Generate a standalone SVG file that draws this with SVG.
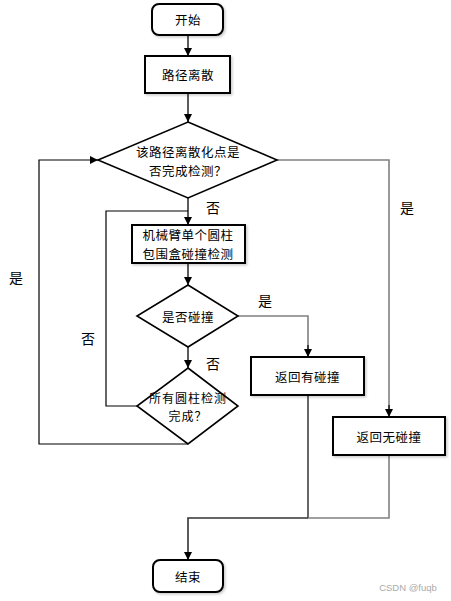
<svg xmlns="http://www.w3.org/2000/svg" width="451" height="601" viewBox="0 0 451 601">
<defs>
<marker id="arr" viewBox="0 0 10 10" refX="10" refY="5" markerWidth="8" markerHeight="8" markerUnits="userSpaceOnUse" orient="auto">
<path d="M0,0 L10,5 L0,10 Z" fill="#000"/>
</marker>
<filter id="sh" x="-10%" y="-10%" width="130%" height="140%">
<feDropShadow dx="1.5" dy="1.5" stdDeviation="1" flood-color="#000" flood-opacity="0.2"/>
</filter>
</defs>
<style>
.n{fill:#fff;stroke:#000;stroke-width:2}
.d{fill:#fff;stroke:#000;stroke-width:1.6}
.t{font-family:"Noto Sans CJK SC","Liberation Sans",sans-serif;font-size:12.5px;fill:#000;text-anchor:middle;dominant-baseline:central;letter-spacing:0.5px}
.s{font-size:12px;letter-spacing:1px}
.l{font-family:"Noto Sans CJK SC","Liberation Sans",sans-serif;font-size:14px;fill:#000;text-anchor:middle;dominant-baseline:central}
.c{fill:none;stroke:#000;stroke-width:1.2}
.g{fill:none;stroke:#808080;stroke-width:1.6}
.k{fill:none;stroke:#333;stroke-width:1.6}
</style>
<rect width="451" height="601" fill="#fff"/>
<g id="connectors">
<path class="k" d="M188,35 V56" marker-end="url(#arr)"/>
<path class="k" d="M188,93 V122" marker-end="url(#arr)"/>
<path class="k" d="M188,198 V225" marker-end="url(#arr)"/>
<path class="c" d="M137,406 H106 V211 H188"/>
<path class="k" d="M188,263 V285" marker-end="url(#arr)"/>
<path class="k" d="M188,347 V368" marker-end="url(#arr)"/>
<path class="c" d="M188,444 H39 V160 H98" marker-end="url(#arr)"/>
<path class="g" d="M277,160 H389 V409"/>
<path class="c" d="M389,405 V417" marker-end="url(#arr)"/>
<path class="g" d="M238,316 H308 V350"/>
<path class="c" d="M308,345 V357" marker-end="url(#arr)"/>
<path class="c" d="M308,395 V518"/>
<path class="g" d="M389,455 V518 H308"/>
<path class="k" d="M308,518 H188 V560" marker-end="url(#arr)"/>
</g>
<g id="start">
<rect class="n" x="152" y="4" width="71" height="31" rx="7" filter="url(#sh)"/>
<text class="t" x="188" y="19.5">开始</text>
</g>
<g id="discretize">
<rect class="n" x="145" y="56" width="85" height="37" filter="url(#sh)"/>
<text class="t" x="188" y="74">路径离散</text>
</g>
<g id="check-done">
<polygon class="d" points="188,122 277,160 188,198 98,160"/>
<text class="t" x="188" y="151">该路径离散化点是</text>
<text class="t" x="188" y="170">否完成检测？</text>
</g>
<g id="cylinder-check">
<rect class="n" x="132" y="225" width="113" height="38" filter="url(#sh)"/>
<text class="t" x="188" y="234.5">机械臂单个圆柱</text>
<text class="t" x="188" y="253">包围盒碰撞检测</text>
</g>
<g id="collide">
<polygon class="d" points="188,285 238,316 188,347 137,316"/>
<text class="t" x="188" y="316">是否碰撞</text>
</g>
<g id="all-done">
<polygon class="d" points="188,368 238,406 188,444 137,406"/>
<text class="t s" x="188" y="397.5">所有圆柱检测</text>
<text class="t s" x="188" y="415.5">完成？</text>
</g>
<g id="ret-collide">
<rect class="n" x="251" y="357" width="113" height="38" filter="url(#sh)"/>
<text class="t" x="307.5" y="376">返回有碰撞</text>
</g>
<g id="ret-nocollide">
<rect class="n" x="333" y="417" width="112" height="38" filter="url(#sh)"/>
<text class="t" x="389" y="436.5">返回无碰撞</text>
</g>
<g id="end">
<rect class="n" x="153" y="560" width="70" height="32" rx="7" filter="url(#sh)"/>
<text class="t" x="188" y="576">结束</text>
</g>
<g id="labels">
<text class="l" x="213" y="207">否</text>
<text class="l" x="407" y="207">是</text>
<text class="l" x="265" y="300">是</text>
<text class="l" x="213" y="363">否</text>
<text class="l" x="88" y="338">否</text>
<text class="l" x="16" y="277">是</text>
</g>
<text x="408" y="587" font-family="Liberation Sans,sans-serif" font-size="9.5" fill="#aaa" text-anchor="middle" dominant-baseline="central">CSDN @fuqb</text>
</svg>
